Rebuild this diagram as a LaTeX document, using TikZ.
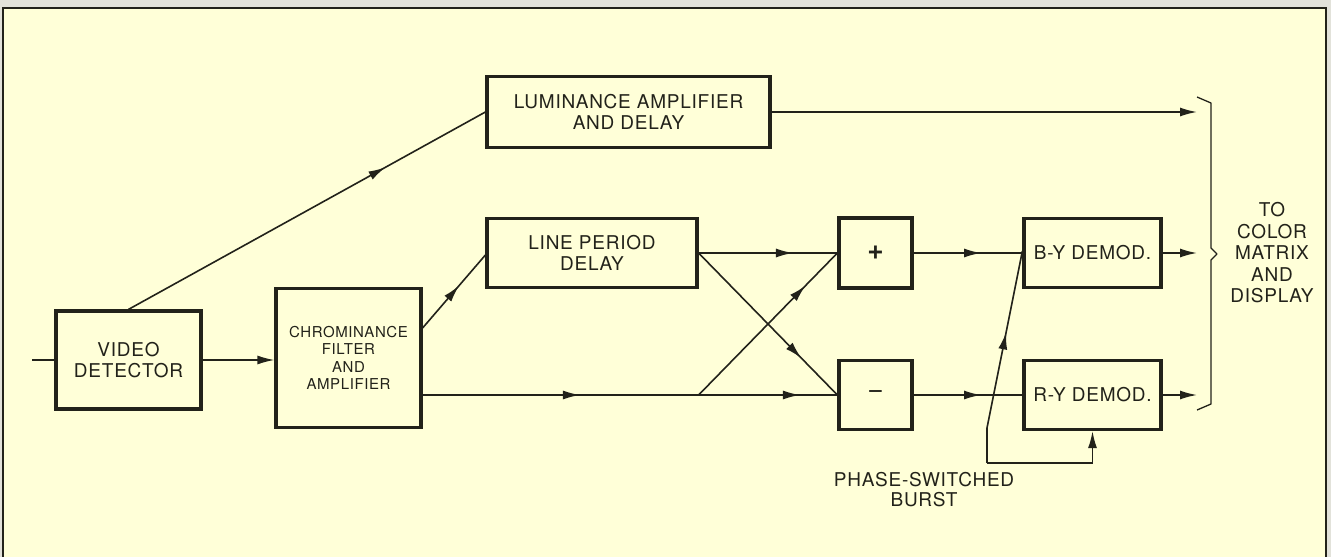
\documentclass[tikz,border=0pt]{standalone}
\usepackage{fontspec}
\setmainfont[LetterSpace=4]{TeX Gyre Heros}
\usetikzlibrary{arrows.meta,decorations.markings}
\definecolor{paper}{HTML}{FFFFD8}
\definecolor{ink}{HTML}{22221A}
\definecolor{outer}{HTML}{E2E2DA}
\begin{document}
\begin{tikzpicture}[x=1pt,y=-1pt,
  box/.style={draw=ink, line width=3.2pt, fill=paper, inner sep=0pt, align=center,
    text=ink, font=\fontsize{19}{21}\selectfont},
  conn/.style={draw=ink, line width=1.6pt},
  tip/.style={-{Latex[length=17pt,width=9pt]}},
  mid/.style={postaction={decorate}, decoration={markings,
    mark=at position #1 with {\arrow{Latex[length=17pt,width=9pt]}}}},
  lbl/.style={text=ink, align=center, inner sep=0pt, font=\fontsize{19}{21}\selectfont}
]
\useasboundingbox (0,0) rectangle (1331,557);
\fill[outer] (0,0) rectangle (1331,557);
\fill[paper] (3,8) rectangle (1326,557);
\draw[ink, line width=2pt] (3,557) -- (3,8) -- (1326,8) -- (1326,557);

% blocks
\node[box, minimum width=145pt, minimum height=98pt] (vd) at (128.5,360) {VIDEO\\DETECTOR};
\node[box, minimum width=145pt, minimum height=139pt, font=\fontsize{15}{17.3}\selectfont] (chr) at (348.5,358) {CHROMINANCE\\FILTER\\AND\\AMPLIFIER};
\node[box, minimum width=283pt, minimum height=71pt, font=\fontsize{19}{20.5}\selectfont] (lum) at (628.5,112) {LUMINANCE AMPLIFIER\\AND DELAY};
\node[box, minimum width=210pt, minimum height=69pt] (lpd) at (592,253) {LINE PERIOD\\DELAY};
\node[box, minimum width=73pt, minimum height=70pt, font=\fontsize{28}{28}\selectfont\bfseries] (plus) at (875.5,253) {+};
\node[box, minimum width=73pt, minimum height=69pt, font=\fontsize{28}{28}\selectfont] (minus) at (875.5,395) {\char"2212};
\node[box, minimum width=137pt, minimum height=69pt] (by) at (1092.5,253) {B-Y DEMOD.};
\node[box, minimum width=137pt, minimum height=69pt] (ry) at (1092.5,395) {R-Y DEMOD.};

% free ends
\coordinate (in) at (32,360);
\coordinate (lumout) at (1197,112);
\coordinate (byout) at (1197,253);
\coordinate (ryout) at (1197,395);
\coordinate (br) at (lpd.east |- minus.west);
\coordinate (bk) at (987,428);
\coordinate (bb) at (987,463);

% connectors
\draw[conn] (in) -- (vd.west);
\draw[conn, tip] (vd.east) -- (vd.east -| chr.west);
\draw[conn, mid=0.72] (vd.north) -- (lum.west);
\draw[conn, tip] (lum.east) -- (lumout);
\draw[conn, mid=0.58] ([yshift=30pt]chr.east) -- ([yshift=-2pt]lpd.west);
\draw[conn, mid=0.57] ([yshift=-37pt]chr.east) -- (br);
\draw[conn, mid=0.73] (br) -- (minus.west);
\draw[conn, mid=0.68] (lpd.east) -- (plus.west);
\draw[conn, mid=0.74] (lpd.east) -- (minus.west);
\draw[conn, mid=0.77] (br) -- (plus.west);
\draw[conn, mid=0.62] (plus.east) -- (by.west);
\draw[conn, mid=0.62] (minus.east) -- (ry.west);
\draw[conn, tip] (by.east) -- (byout);
\draw[conn, tip] (ry.east) -- (ryout);
\draw[conn, tip] (bb) -| (ry.south);
\draw[conn] (bb) -- (bk);
\draw[conn, mid=0.54] (bk) -- ([yshift=2pt]by.west);

% brace
\draw[ink, line width=1.3pt, line join=round]
  (1197,97) -- (1211,103) -- (1211,248) -- (1217,254) -- (1211,260) -- (1211,404) -- (1197,410);

% labels
\node[lbl, font=\fontsize{19}{21.5}\selectfont] (dest) at (1272,253) {TO\\COLOR\\MATRIX\\AND\\DISPLAY};
\node[lbl, font=\fontsize{19}{20}\selectfont] (burst) at (924,490) {PHASE-SWITCHED\\BURST};
\end{tikzpicture}
\end{document}
